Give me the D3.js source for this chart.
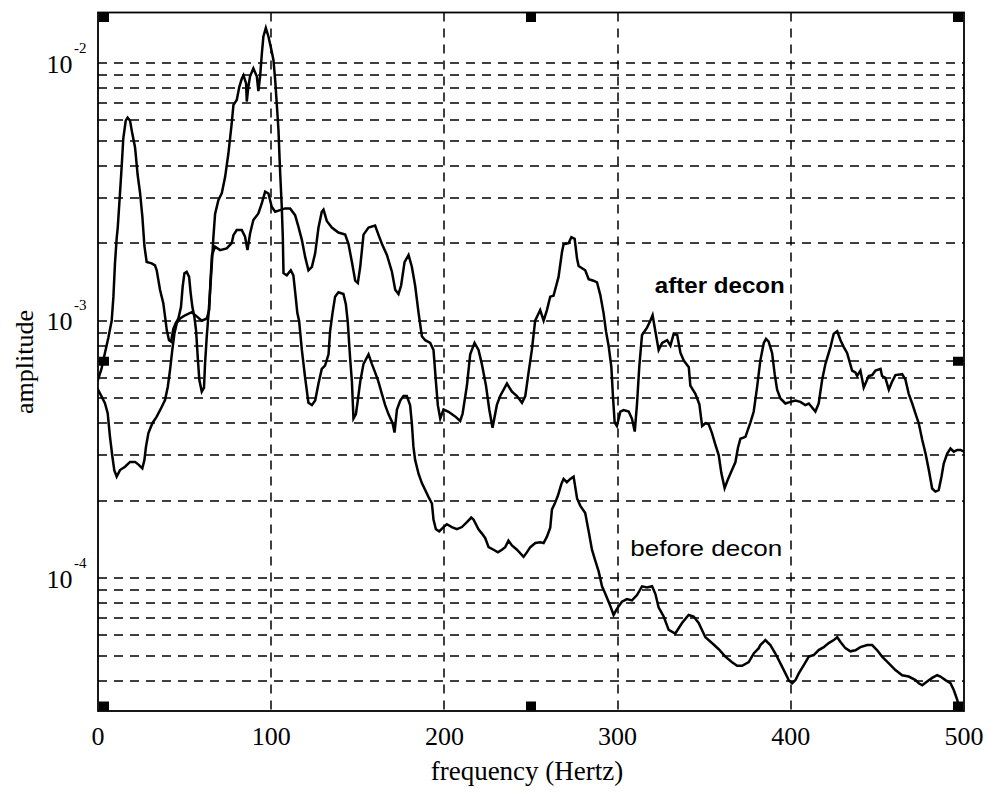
<!DOCTYPE html>
<html><head><meta charset="utf-8">
<script src="https://cdn.jsdelivr.net/npm/d3@7"></script>
<style>body{margin:0;background:#fff}</style>
</head><body>
<svg id="chart" width="989" height="792"></svg>
<script>
// ---- data ----
const xTickValues = [0, 100, 200, 300, 400, 500];
const xTickLabels = ["0", "100", "200", "300", "400", "500"];
const yDecades = [1e-4, 1e-3, 1e-2];
const yDecadeExponents = ["-4", "-3", "-2"];
const yGridValues = [4e-5,5e-5,6e-5,7e-5,8e-5,9e-5,1e-4,2e-4,3e-4,4e-4,5e-4,6e-4,7e-4,8e-4,9e-4,
                     1e-3,2e-3,3e-3,4e-3,5e-3,6e-3,7e-3,8e-3,9e-3,1e-2];

const beforeFreq = [0,2,4,6,7.9,8.9,9.8,10.8,11.4,12.7,13.7,14.6,16,17.1,18.5,19.8,21.4,22.9,24.3,25.6,26.8,28.1,31,32.9,33.9,35.8,37.7,38.7,39.7,41,42.2,43.5,44.9,46.4,47.9,48.9,49.9,51.2,52.6,53.5,54.5,55.6,56.6,57.6,58.5,59.9,61.2,61.8,62.8,63.7,64.7,65.7,66.6,67.6,69.5,71.5,73.4,75.3,77.2,78.2,80.1,81.6,83,84,85.5,85.9,86.8,87.8,89.7,91.7,92.6,93.6,94.6,95.5,96.9,98.4,99.7,101.3,102.3,103.2,104.2,105.1,106.1,106.7,107.1,109,111.3,112.8,113.8,115.1,116.1,117.7,119.6,121.5,123.5,125.4,127.3,129.2,131.1,133.1,134,135.4,136.9,138.8,141.7,143.1,144.2,145.6,146.6,147.5,148.9,150,151.4,153.3,156.2,158.1,160,161.9,163.9,165.8,167.7,170.1,171.2,172.6,174.5,176.4,178.3,180.2,181.2,182.1,183.1,185.1,187,188.9,190.8,192.8,193.7,195.1,197,199.5,201.4,204.3,207.2,210.1,213,215.5,216.8,219.7,221.7,223.6,225.5,228.4,230.9,233.2,235.1,237,239,241.9,245.7,247.6,249.6,252.5,255.3,257.3,259.2,261.1,262.1,263.6,265.6,267.5,268.8,270.7,272.7,274.6,276.6,278.5,281.3,283.3,285.2,287.1,289.1,291,292.9,295.8,297.7,299.6,302.5,305.4,308.3,311.2,314.1,317,319.9,321.8,323.7,326.6,329.5,333.3,337.2,341,343.9,346.8,350.7,354.5,358.4,362.2,366.1,369,371.9,375.7,378.6,381.5,382.4,385.3,388.2,391.1,394,396.9,398.8,400.8,402.7,404.6,407.5,410.4,413.2,416.1,419,421.9,424.8,426.8,428.7,431.5,434.4,437.3,440.2,444.1,447,449.9,452.7,456.6,460.4,464.3,468.1,472,473.9,475.9,478.7,481.6,484.5,486.4,489.3,492.2,494.1,496.1,497.4,498.6];
const beforeAmp = [5.9e-4,6.5e-4,7.5e-4,8.6e-4,1.0e-3,1.24e-3,1.67e-3,2.1e-3,2.3e-3,3.13e-3,4.0e-3,5.1e-3,5.98e-3,6.15e-3,5.98e-3,5.33e-3,4.71e-3,3.68e-3,3.13e-3,2.54e-3,1.95e-3,1.69e-3,1.67e-3,1.64e-3,1.57e-3,1.32e-3,1.17e-3,1.04e-3,9.2e-4,8.4e-4,8.3e-4,9.3e-4,9.8e-4,1.02e-3,1.13e-3,1.36e-3,1.53e-3,1.55e-3,1.48e-3,1.28e-3,1.13e-3,1.04e-3,9.2e-4,7.2e-4,5.9e-4,5.3e-4,5.5e-4,6.8e-4,8.7e-4,1.04e-3,1.3e-3,1.65e-3,2.1e-3,2.6e-3,2.94e-3,3.13e-3,3.62e-3,4.47e-3,5.84e-3,6.89e-3,7.2e-3,8.1e-3,8.7e-3,8.97e-3,8.35e-3,7.1e-3,8.1e-3,8.9e-3,9.55e-3,8.9e-3,7.8e-3,8.9e-3,1.09e-2,1.27e-2,1.37e-2,1.27e-2,1.16e-2,1.03e-2,8.6e-3,6.99e-3,5.5e-3,3.85e-3,2.77e-3,2.12e-3,1.53e-3,1.5e-3,1.57e-3,1.5e-3,1.3e-3,1.07e-3,1.0e-3,7.7e-4,6.0e-4,4.8e-4,4.7e-4,4.9e-4,5.7e-4,6.5e-4,6.7e-4,7.4e-4,9.1e-4,1.07e-3,1.24e-3,1.29e-3,1.27e-3,1.16e-3,9.9e-4,7.1e-4,5.8e-4,4.17e-4,4.34e-4,4.9e-4,5.8e-4,6.8e-4,7.4e-4,6.8e-4,6.3e-4,5.8e-4,5.2e-4,4.7e-4,4.34e-4,4.0e-4,3.68e-4,4.52e-4,4.9e-4,5.1e-4,5.1e-4,4.7e-4,4.0e-4,3.25e-4,2.88e-4,2.54e-4,2.34e-4,2.2e-4,2.07e-4,1.95e-4,1.69e-4,1.55e-4,1.52e-4,1.58e-4,1.62e-4,1.58e-4,1.55e-4,1.58e-4,1.65e-4,1.72e-4,1.69e-4,1.55e-4,1.49e-4,1.43e-4,1.32e-4,1.29e-4,1.26e-4,1.29e-4,1.32e-4,1.40e-4,1.34e-4,1.29e-4,1.21e-4,1.26e-4,1.32e-4,1.37e-4,1.38e-4,1.37e-4,1.45e-4,1.57e-4,1.85e-4,1.94e-4,2.1e-4,2.32e-4,2.43e-4,2.36e-4,2.43e-4,2.48e-4,2.04e-4,1.91e-4,1.79e-4,1.52e-4,1.29e-4,1.17e-4,1.06e-4,9.3e-5,8.7e-5,7.8e-5,7.2e-5,7.6e-5,8.1e-5,8.3e-5,8.2e-5,8.6e-5,9.3e-5,9.2e-5,9.3e-5,8.7e-5,7.7e-5,7.1e-5,6.3e-5,6.1e-5,6.7e-5,7.2e-5,7.1e-5,6.7e-5,5.9e-5,5.6e-5,5.3e-5,4.96e-5,4.72e-5,4.57e-5,4.57e-5,4.72e-5,5.1e-5,5.35e-5,5.5e-5,5.75e-5,5.5e-5,5.1e-5,4.67e-5,4.27e-5,4.02e-5,3.91e-5,4.02e-5,4.27e-5,4.6e-5,4.96e-5,5.03e-5,5.26e-5,5.4e-5,5.6e-5,5.75e-5,5.9e-5,5.65e-5,5.35e-5,5.2e-5,5.25e-5,5.4e-5,5.5e-5,5.5e-5,5.25e-5,4.96e-5,4.67e-5,4.4e-5,4.2e-5,4.15e-5,4.02e-5,3.91e-5,3.84e-5,3.97e-5,4.1e-5,4.2e-5,4.15e-5,4.02e-5,3.91e-5,3.68e-5,3.37e-5,3.08e-5,3.0e-5];

const afterFreq = [0,2.1,4,5.6,6.9,8.3,9.4,10.8,12.7,15.6,18.5,21.4,23.7,25.6,26.8,27.7,29.1,31.4,33.9,36.4,38.7,40.3,41.6,42.9,44.1,45.5,47.4,50.3,54.1,57,59.9,62.8,64.2,65,65.8,67.6,70.5,74.3,77.2,78.2,80.1,83,84.9,86.3,87.8,89.7,92.6,94.6,96.5,98.4,100.3,102.3,105.1,108,110.9,113.8,115.7,117.7,119.6,121.5,123.5,125.4,127.3,129.2,130.2,132.1,135,138.8,142.7,144.6,146.6,148.5,150,151.4,153.3,156.2,160,161.9,163.9,166.8,169.7,171.6,173.5,175,177,179.3,181.2,183.1,185.1,187,188.9,191.8,193.7,195.1,196.2,197.6,199.5,202.4,206.2,209.1,210.5,213,214.9,217.4,219.7,221.6,224,225.9,227.8,230.3,232.2,236.1,239,241.9,244.8,246.7,248.6,250.5,252.4,255.3,257.3,259.2,261.1,263,265.9,267.9,268.8,271.7,273.3,275.2,276.6,277.5,281.3,283.3,286.1,288.1,290,291.9,293.3,294.8,296.4,297.3,298.3,299.6,301.6,303.5,306.4,308.3,309.9,311.2,312.5,314.1,317,318.9,320.2,321.8,323.7,325.7,328.6,330.5,332.4,334.4,336.3,338.2,341.1,342,344.9,347.2,348.8,350.7,352.6,354.5,356.4,358.4,359.9,361.8,363.8,366.1,368,369.5,370.9,373.8,376.7,378.6,380.5,382.4,384.4,385.7,387.2,389.2,390.7,392.1,394,396.9,399.8,402.7,405.5,408.4,410.4,414.2,416.1,418.1,420,422.9,424.8,426.8,428.7,430.6,432.5,435.4,437.3,438.3,440.2,442.1,445,447,448.9,451.8,452.7,454.6,456.6,458.5,460.4,464.3,466.2,468.1,470.1,472,473.9,475.9,477.8,479.7,481.6,483.5,485.4,487,488.3,490.3,492.2,494.1,496.1,498,500];
const afterAmp = [5.4e-4,5.07e-4,4.78e-4,4.37e-4,3.55e-4,2.97e-4,2.63e-4,2.48e-4,2.63e-4,2.71e-4,2.83e-4,2.83e-4,2.75e-4,2.67e-4,2.88e-4,3.24e-4,3.66e-4,4.0e-4,4.24e-4,4.57e-4,4.92e-4,5.54e-4,6.44e-4,7.7e-4,8.9e-4,9.8e-4,1.02e-3,1.05e-3,1.08e-3,1.04e-3,1.0e-3,1.02e-3,1.1e-3,1.45e-3,1.8e-3,1.94e-3,1.88e-3,1.91e-3,2.0e-3,2.15e-3,2.25e-3,2.25e-3,2.12e-3,1.88e-3,2.18e-3,2.46e-3,2.61e-3,2.86e-3,3.17e-3,3.12e-3,2.77e-3,2.65e-3,2.69e-3,2.73e-3,2.73e-3,2.57e-3,2.32e-3,2.06e-3,1.77e-3,1.57e-3,1.62e-3,1.83e-3,2.3e-3,2.65e-3,2.70e-3,2.44e-3,2.30e-3,2.20e-3,2.16e-3,1.99e-3,1.69e-3,1.43e-3,1.40e-3,1.62e-3,2.16e-3,2.30e-3,2.34e-3,2.16e-3,1.99e-3,1.80e-3,1.55e-3,1.32e-3,1.27e-3,1.37e-3,1.69e-3,1.80e-3,1.62e-3,1.37e-3,1.07e-3,8.7e-4,8.4e-4,8.2e-4,7.7e-4,5.8e-4,4.7e-4,4.17e-4,4.52e-4,4.43e-4,4.25e-4,4.08e-4,4.35e-4,5.6e-4,7.4e-4,8.2e-4,7.7e-4,6.8e-4,5.6e-4,4.52e-4,3.84e-4,4.71e-4,5.1e-4,5.7e-4,5.3e-4,5.1e-4,4.8e-4,5.1e-4,6.3e-4,7.7e-4,1.0e-3,1.10e-3,1.0e-3,1.10e-3,1.24e-3,1.25e-3,1.48e-3,1.85e-3,1.98e-3,2.0e-3,2.11e-3,2.08e-3,1.74e-3,1.63e-3,1.57e-3,1.45e-3,1.43e-3,1.41e-3,1.26e-3,1.07e-3,9.1e-4,8.0e-4,6.6e-4,5.1e-4,4.03e-4,3.9e-4,4.44e-4,4.5e-4,4.44e-4,4.16e-4,3.71e-4,4.74e-4,6.6e-4,8.8e-4,9.4e-4,1.0e-3,1.05e-3,9.1e-4,7.7e-4,8.2e-4,8.4e-4,8.0e-4,8.9e-4,8.8e-4,7.5e-4,7.0e-4,6.6e-4,5.6e-4,5.2e-4,4.74e-4,3.9e-4,4.0e-4,3.96e-4,3.66e-4,3.31e-4,3.0e-4,2.56e-4,2.24e-4,2.43e-4,2.64e-4,2.82e-4,3.21e-4,3.48e-4,3.54e-4,4.03e-4,4.44e-4,5.5e-4,7.0e-4,8.2e-4,8.5e-4,8.3e-4,7.5e-4,6.2e-4,5.4e-4,4.99e-4,4.77e-4,4.84e-4,4.9e-4,4.84e-4,4.7e-4,4.77e-4,4.44e-4,4.77e-4,5.9e-4,6.8e-4,7.9e-4,8.9e-4,9.1e-4,8.4e-4,7.9e-4,7.5e-4,6.4e-4,6.3e-4,6.1e-4,6.4e-4,5.5e-4,6.1e-4,6.15e-4,6.4e-4,6.5e-4,6.1e-4,6.0e-4,5.4e-4,5.8e-4,6.15e-4,6.2e-4,5.9e-4,5.2e-4,4.77e-4,4.36e-4,3.99e-4,3.44e-4,3.05e-4,2.63e-4,2.23e-4,2.17e-4,2.2e-4,2.48e-4,2.79e-4,3.05e-4,3.19e-4,3.1e-4,3.15e-4,3.15e-4,3.1e-4];

const annotations = [
  {text: "after decon", f: 321.5, v: 1.28e-3, bold: true, width: 130},
  {text: "before decon", f: 307.3, v: 1.22e-4, bold: false, width: 152}
];
const xLabel = "frequency (Hertz)";
const yLabel = "amplitude";

// ---- layout ----
const plot = {left: 98, right: 964, top: 12.5, bottom: 711};
const svg = d3.select("#chart");
svg.append("rect").attr("width", 989).attr("height", 792).attr("fill", "#fff");

const x = d3.scaleLinear().domain([0, 500]).range([plot.left, plot.right]);
const y = d3.scaleLog().domain([3.05e-5, 1.574e-2]).range([plot.bottom, plot.top]);

const serif = "'Liberation Serif','Times New Roman',serif";
const sans = "'Liberation Sans',Arial,sans-serif";

// grid
const grid = svg.append("g").attr("stroke", "#000").attr("stroke-width", 1.5).attr("stroke-dasharray", "9,7").attr("fill", "none");
grid.selectAll("line.h").data(yGridValues).join("line").attr("class", "h")
  .attr("x1", plot.left).attr("x2", plot.right)
  .attr("y1", d => Math.round(y(d))).attr("y2", d => Math.round(y(d)));
grid.selectAll("line.v").data(xTickValues.slice(1, -1)).join("line").attr("class", "v")
  .attr("x1", d => Math.round(x(d))).attr("x2", d => Math.round(x(d)))
  .attr("y1", plot.top).attr("y2", plot.bottom);

// curves
svg.append("defs").append("clipPath").attr("id", "clip").append("rect")
  .attr("x", plot.left).attr("y", plot.top).attr("width", plot.right - plot.left).attr("height", plot.bottom - plot.top);
const line = d3.line().x(d => x(d[0])).y(d => y(d[1]));
const series = [
  d3.zip(beforeFreq, beforeAmp),
  d3.zip(afterFreq, afterAmp)
];
svg.append("g").attr("clip-path", "url(#clip)").selectAll("path").data(series).join("path")
  .attr("d", line).attr("fill", "none").attr("stroke", "#000").attr("stroke-width", 2.5)
  .attr("stroke-linejoin", "miter").attr("stroke-linecap", "square");

// frame
svg.append("rect").attr("x", plot.left).attr("y", plot.top)
  .attr("width", plot.right - plot.left).attr("height", plot.bottom - plot.top)
  .attr("fill", "none").attr("stroke", "#000").attr("stroke-width", 1.8);

// selection handles
const hx = [plot.left + 1, (plot.left + plot.right) / 2 - 5, plot.right - 11];
const hy = [plot.top + 0.5, (plot.top + plot.bottom) / 2 - 5, plot.bottom - 9.5];
const handles = [];
hx.forEach((hxv, i) => hy.forEach((hyv, j) => { if (!(i === 1 && j === 1)) handles.push([hxv, hyv]); }));
svg.selectAll("rect.handle").data(handles).join("rect").attr("class", "handle")
  .attr("x", d => d[0]).attr("y", d => d[1]).attr("width", 10).attr("height", 9).attr("fill", "#000");

// x tick labels
svg.selectAll("text.xt").data(xTickValues).join("text").attr("class", "xt")
  .attr("x", d => x(d)).attr("y", 745).attr("text-anchor", "middle")
  .style("font-family", serif).style("font-size", "26px")
  .text((d, i) => xTickLabels[i]);

// y tick labels (10 with superscript exponent)
const yt = svg.selectAll("g.yt").data(yDecades).join("g").attr("class", "yt");
yt.append("text").attr("x", 72.5).attr("y", d => y(d) + 9.5).attr("text-anchor", "end")
  .style("font-family", serif).style("font-size", "26px").text("10");
yt.append("text").attr("x", 74).attr("y", d => y(d) - 10.5).attr("text-anchor", "start")
  .style("font-family", serif).style("font-size", "15px").text((d, i) => yDecadeExponents[i]);

// axis labels
svg.append("text").attr("x", 527).attr("y", 780).attr("text-anchor", "middle")
  .style("font-family", serif).style("font-size", "27px").text(xLabel);
svg.append("text").attr("transform", "translate(33,362) rotate(-90)").attr("text-anchor", "middle")
  .style("font-family", serif).style("font-size", "26px").text(yLabel);

// annotations
svg.selectAll("text.ann").data(annotations).join("text").attr("class", "ann")
  .attr("x", d => x(d.f)).attr("y", d => y(d.v))
  .attr("textLength", d => d.width).attr("lengthAdjust", "spacingAndGlyphs")
  .style("font-family", sans).style("font-size", "22px")
  .style("font-weight", d => d.bold ? "bold" : "normal")
  .text(d => d.text);
</script>
</body></html>
